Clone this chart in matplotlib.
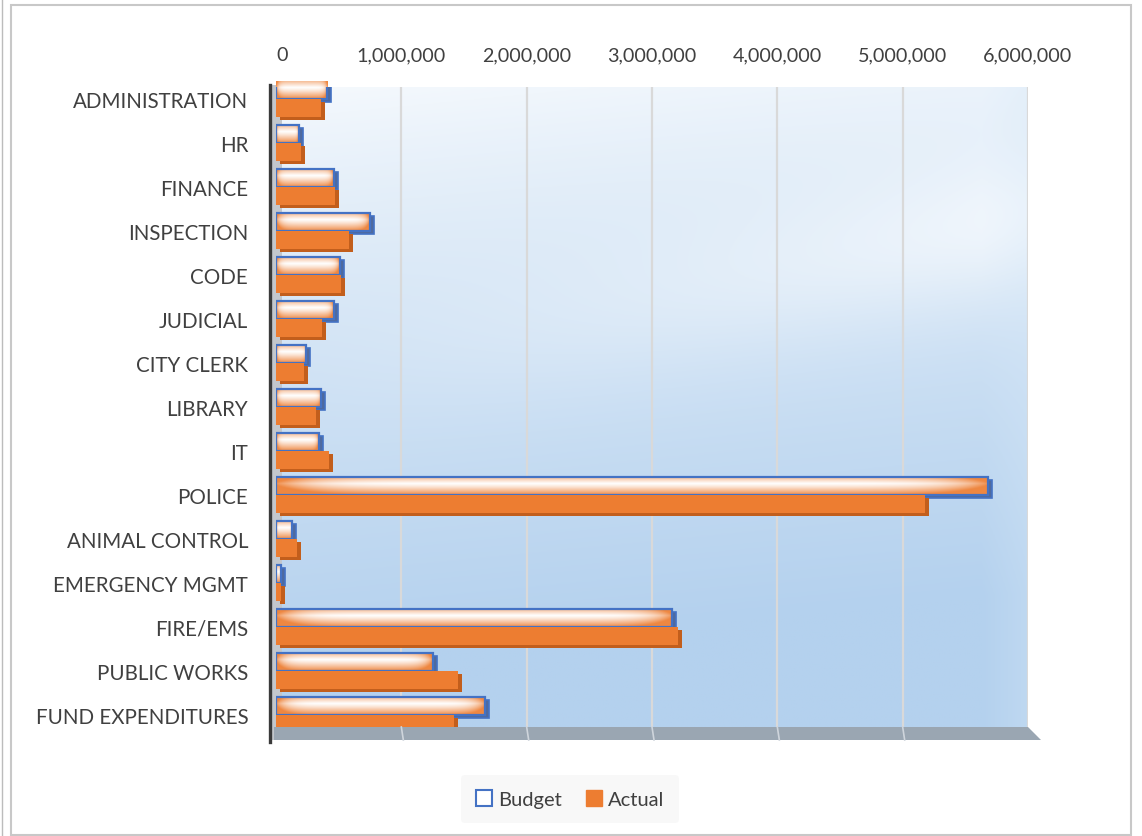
import numpy as np
import matplotlib
matplotlib.use("Agg")
import matplotlib.pyplot as plt
from matplotlib.patches import Patch, Polygon, Rectangle
from matplotlib.lines import Line2D
from matplotlib.colors import to_rgb
from matplotlib.ticker import FuncFormatter
import matplotlib.transforms as mtransforms

plt.rcParams['font.family'] = ['Lato', 'DejaVu Sans']

categories = ["ADMINISTRATION", "HR", "FINANCE", "INSPECTION", "CODE", "JUDICIAL",
              "CITY CLERK", "LIBRARY", "IT", "POLICE", "ANIMAL CONTROL",
              "EMERGENCY MGMT", "FIRE/EMS", "PUBLIC WORKS", "FUND EXPENDITURES"]
budget = [410000, 180000, 460000, 750000, 510000, 460000, 240000, 360000, 340000,
          5680000, 130000, 40000, 3160000, 1250000, 1670000]
actual = [360000, 200000, 470000, 580000, 520000, 370000, 220000, 320000, 420000,
          5180000, 170000, 40000, 3210000, 1450000, 1420000]
x_ticks = [0, 1000000, 2000000, 3000000, 4000000, 5000000, 6000000]

W, H = 1142, 837
fig = plt.figure(figsize=(W / 100, H / 100), dpi=100)
fig.patch.set_facecolor("white")


def fx(px):
    return px / W


def fy(py):
    return 1 - py / H


# plot area
left_px, right_px, top_px, bot_px = 276, 1028, 88, 728
ax = fig.add_axes([fx(left_px), fy(bot_px), fx(right_px - left_px), (bot_px - top_px) / H])
n = len(categories)
y0 = (top_px - 100) / 44.0
y1 = (bot_px - 100) / 44.0
ax.set_xlim(0, 6000000)
ax.set_ylim(y1, y0)

# back wall gradient: white at the top, soft blue toward the bottom
gx = np.linspace(0, 1, 300)
gy = np.linspace(0, 1, 300)
GX, GY = np.meshgrid(gx, gy)
t = np.clip(0.05 + 1.05 * GY + 0.12 * GX
            - 0.30 * np.exp(-((GY - 0.22 - 0.25 * (1 - GX)) ** 2) / 0.015) * GX, 0, 1)
t = t ** 0.75
c_white = np.array(to_rgb("#fdfeff"))
c_blue = np.array(to_rgb("#b4d1ee"))
wall = c_white[None, None, :] * (1 - t[..., None]) + c_blue[None, None, :] * t[..., None]
edge = np.clip((GX - 0.94) / 0.06, 0, 1)[..., None] * 0.3
wall = wall * (1 - edge) + np.array(to_rgb("#d6e8f8"))[None, None, :] * edge
ax.imshow(wall, extent=[0, 1, 0, 1], transform=ax.transAxes, aspect="auto", zorder=0)

# left side wall strip, visible between the bars
ax.add_patch(Rectangle((fx(271), fy(741)), fx(11), (741 - 86) / H, transform=fig.transFigure,
                       facecolor="#c3c7cc", edgecolor="none", zorder=1, clip_on=False))

for xv in x_ticks[1:]:
    ax.axvline(xv, color="#d9d9d9", lw=1.6, zorder=1)

for s in ax.spines.values():
    s.set_visible(False)

ax.xaxis.tick_top()
ax.set_xticks(x_ticks)
ax.xaxis.set_major_formatter(FuncFormatter(lambda v, p: f"{int(v):,}"))
ax.tick_params(axis="x", length=0, pad=17, labelsize=14.2, labelcolor="#404040")
ax.set_yticks(range(n))
ax.set_yticklabels(categories)
ax.tick_params(axis="y", length=0, pad=20, labelsize=14.8, labelcolor="#404040")
# the zero label sits on the back wall edge, a little right of the bar origin
zl = ax.get_xticklabels()[0]
zl.set_transform(zl.get_transform() + mtransforms.ScaledTranslation(6 / 100, 0, fig.dpi_scale_trans))

bh = 0.4
orange = np.array(to_rgb("#ed7d31"))
white = np.array([1.0, 1.0, 1.0])
depth_tr = mtransforms.offset_copy(ax.transData, fig=fig, x=4, y=-3, units="dots")


def face_gradient():
    u = np.linspace(0, 1, 200)
    v = np.linspace(0, 1, 40)
    U, V = np.meshgrid(u, v)
    vert = np.where(V < 0.35, 0.5 * (0.35 - V) / 0.35, 0.9 * ((V - 0.35) / 0.65) ** 1.2)
    horiz = np.abs(2 * U - 1) ** 10
    f = np.clip(vert + horiz * 0.8, 0, 0.92)
    return white[None, None, :] * (1 - f[..., None]) + orange[None, None, :] * f[..., None]


grad = face_gradient()

for i in range(n):
    yb = i - 0.2
    ya = i + 0.2
    # budget: extruded side then gradient face with blue outline
    ax.barh(yb, budget[i], height=bh, color="#4f6a9e", edgecolor="#4472c4", lw=1.2,
            transform=depth_tr, zorder=3)
    face = ax.barh(yb, budget[i], height=bh, color="none", edgecolor="#4472c4", lw=1.6, zorder=5)[0]
    im = ax.imshow(grad, extent=[0, budget[i], yb + bh / 2, yb - bh / 2], aspect="auto",
                   zorder=4, interpolation="bilinear")
    im.set_clip_path(face)
    # actual: solid orange face with darker extrusion
    ax.barh(ya, actual[i], height=bh, color="#c25e1c", transform=depth_tr, zorder=6)
    ax.barh(ya, actual[i], height=bh, color="#ed7d31", zorder=7)

ax.set_xlim(0, 6000000)
ax.set_ylim(y1, y0)

# floor slab under the plot
floor = Polygon([(fx(274), fy(728)), (fx(1028), fy(728)), (fx(1041), fy(741)), (fx(274), fy(741))],
                closed=True, transform=fig.transFigure, facecolor="#9aa6b2", edgecolor="none", zorder=1)
fig.add_artist(floor)
for xv in x_ticks[1:-1]:
    xp = left_px + (right_px - left_px) * xv / 6000000
    fig.add_artist(Line2D([fx(xp), fx(xp + 2)], [fy(728), fy(741)], transform=fig.transFigure,
                          color="#cfd5dc", lw=1.2))

# vertical axis line
fig.add_artist(Line2D([fx(270), fx(270)], [fy(86), fy(743)], transform=fig.transFigure,
                      color="#3a3a3a", lw=2.4))

# chart frame
fig.add_artist(Rectangle((fx(11), fy(836)), fx(1120), (836 - 6) / H, transform=fig.transFigure,
                         facecolor="none", edgecolor="#c8c8c8", lw=1.5))
fig.add_artist(Line2D([fx(1.5), fx(1.5)], [0, 1], transform=fig.transFigure, color="#bcbcbc", lw=1.0))

handles = [Patch(facecolor="white", edgecolor="#4472c4", lw=1.5, label="Budget"),
           Patch(facecolor="#ed7d31", edgecolor="#ed7d31", label="Actual")]
leg = fig.legend(handles=handles, loc="center", bbox_to_anchor=(fx(570), fy(800)), ncol=2,
                 frameon=True, fontsize=14.5, handlelength=0.8, handleheight=0.8,
                 handletextpad=0.3, columnspacing=1.2, borderpad=0.75)
leg.get_frame().set_facecolor("#f7f7f7")
leg.get_frame().set_edgecolor("none")
for tx in leg.get_texts():
    tx.set_color("#404040")

fig.savefig("out.png", dpi=100)
